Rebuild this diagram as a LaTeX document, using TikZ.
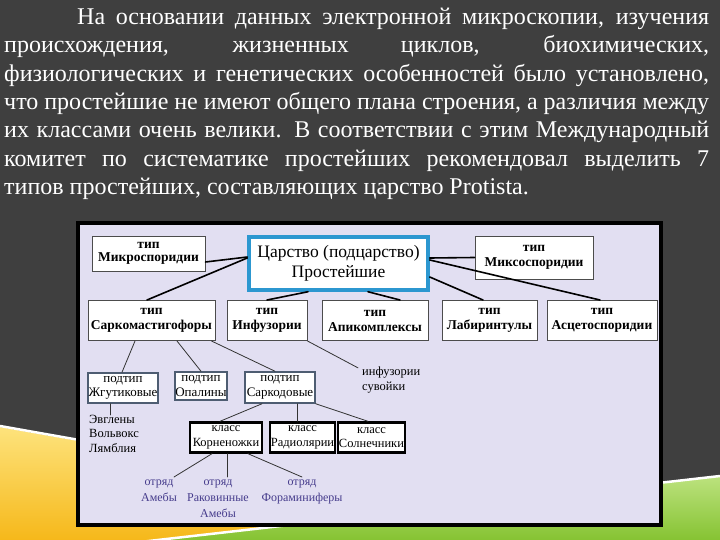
\documentclass[tikz,border=0pt]{standalone}
\usepackage{fontspec}
\setmainfont{Liberation Serif}
\usetikzlibrary{calc}
\definecolor{slidebg}{HTML}{3F3F3F}
\definecolor{panelbg}{HTML}{E2DFF2}
\definecolor{kingblue}{HTML}{2C97D0}
\definecolor{otryad}{HTML}{463C8C}
\definecolor{podedge}{HTML}{4E5D72}
\definecolor{swyellow}{HTML}{F6B81A}
\definecolor{swyellowhi}{HTML}{FDE37C}
\definecolor{swgreen}{HTML}{84C230}
\definecolor{swgreenhi}{HTML}{BCE27E}

\begin{document}
\begin{tikzpicture}[x=1pt, y=-1pt, line cap=round,
  tipbox/.style={draw=black!70, fill=white, line width=1pt, inner sep=0pt, align=center,
    font=\fontsize{13.5}{15}\selectfont\bfseries, minimum height=40pt},
  kingbox/.style={draw=kingblue, fill=white, line width=3.5pt, inner sep=0pt, align=center,
    font=\fontsize{17.5}{20}\selectfont, minimum width=179pt, minimum height=53pt},
  podbox/.style={draw=podedge, fill=white, line width=1.5pt, inner sep=0pt, align=center,
    font=\fontsize{13}{14.5}\selectfont, minimum height=30pt},
  klassbox/.style={draw=black, fill=white, line width=2.4pt, inner sep=0pt, align=center,
    font=\fontsize{12.5}{14.5}\selectfont, minimum height=30pt},
  plaintext/.style={inner sep=0pt, font=\fontsize{12.5}{14.5}\selectfont},
  otryadtext/.style={inner sep=0pt, align=center, text=otryad, font=\fontsize{12}{16}\selectfont},
  toplink/.style={black, line width=1.6pt},
  sublink/.style={black!80, line width=0.8pt},
  toptext/.style={inner sep=0pt, align=left, text=white, font=\fontsize{24}{28.3}\selectfont}
]
  \useasboundingbox (0,0) rectangle (720,540);
  \clip (0,0) rectangle (720,540);

  % slide background and swooshes
  \fill[slidebg] (0,0) rectangle (720,540);
  \shade[top color=swyellowhi, bottom color=swyellow] (0,427) -- (640,540) -- (0,540) -- cycle;
  \draw[white, line width=2.5pt] (0,426) -- (640,539);
  \shade[top color=swgreenhi, bottom color=swgreen] (140,542) -- (720,476) -- (720,542) -- cycle;
  \draw[white, line width=2.5pt] (140,542) -- (720,476);

  % intro paragraph
  \node[toptext, anchor=north west] (intro) at (4,8) {%
    \makebox[705pt][s]{\hspace{73pt}На основании данных электронной микроскопии, изучения}\\
    \makebox[705pt][s]{происхождения, жизненных циклов, биохимических,}\\
    \makebox[705pt][s]{физиологических и генетических особенностей было установлено,}\\
    \makebox[705pt][s]{что простейшие не имеют общего плана строения, а различия между}\\
    \makebox[705pt][s]{их классами очень велики. В соответствии с этим Международный}\\
    \makebox[705pt][s]{комитет по систематике простейших рекомендовал выделить 7}\\
    типов простейших, составляющих царство Protista.};

  % diagram panel
  \draw[black, line width=3.5pt, fill=panelbg] (78,223) rectangle (661,525);

  % kingdom and the seven types
  \node[kingbox] (king) at (338.5,263.5) {Царство (подцарство)\\Простейшие};
  \node[tipbox, minimum width=113pt, minimum height=35pt,
    font=\fontsize{13.5}{13.5}\selectfont\bfseries] (micro) at (148.5,253.5) {тип\\Микроспоридии};
  \node[tipbox, minimum width=118pt, minimum height=43pt] (mixo) at (534,257.5) {тип\\Миксоспоридии};
  \node[tipbox, minimum width=127pt] (sarco) at (151.5,320.5) {тип\\Саркомастигофоры};
  \node[tipbox, minimum width=80pt] (infu) at (267,320.5) {тип\\Инфузории};
  \node[tipbox, minimum width=106pt] (apic) at (375,320.5) {тип\\Апикомплексы};
  \node[tipbox, minimum width=95pt] (labi) at (489.5,320.5) {тип\\Лабиринтулы};
  \node[tipbox, minimum width=110pt] (asce) at (602,320.5) {тип\\Асцетоспоридии};

  % subtypes
  \node[podbox, minimum width=70pt] (zhgut) at (123,388) {подтип\\Жгутиковые};
  \node[podbox, minimum width=52pt, minimum height=28pt] (opal) at (201,386) {подтип\\Опалины};
  \node[podbox, minimum width=70pt, minimum height=31pt] (sarcod) at (280,387.5) {подтип\\Саркодовые};
  \node[plaintext, align=left, anchor=west] (suvoi) at (362,380) {инфузории\\сувойки};
  \node[plaintext, align=left, anchor=north west] (evgl) at (89,415) {Эвглены\\Вольвокс\\Лямблия};

  % classes
  \node[klassbox, minimum width=72pt] (korn) at (226,437.5) {класс\\Корненожки};
  \node[klassbox, minimum width=65pt] (radio) at (302.5,437.5) {класс\\Радиолярии};
  \node[klassbox, minimum width=67pt] (solne) at (371.5,437.5) {класс\\Солнечники};

  % orders
  \node[otryadtext, anchor=north] (ot1) at (159,480) {отряд\\Амебы};
  \node[otryadtext, anchor=north] (ot2) at (218,480) {отряд\\Раковинные\\Амебы};
  \node[otryadtext, anchor=north] (ot3) at (302,480) {отряд\\Фораминиферы};

  % links from the kingdom
  \draw[toplink] ([yshift=6.5pt]king.west) -- ([yshift=-8.5pt]micro.east);
  \draw[toplink] ([yshift=5.5pt]king.west) -- ([xshift=-4.5pt]sarco.north);
  \draw[toplink] ([xshift=-30.5pt]king.south) -- (infu.north);
  \draw[toplink] ([xshift=29.5pt]king.south) -- ([xshift=25pt]apic.north);
  \draw[toplink] ([yshift=5.5pt]king.east) -- (mixo.west);
  \draw[toplink] ([yshift=-13.5pt]king.east) -- ([xshift=-6.5pt]labi.north);
  \draw[toplink] ([yshift=3.5pt]king.east) -- ([xshift=-2pt]asce.north);

  % lower levels
  \draw[sublink] ([xshift=-16.5pt]sarco.south) -- ([xshift=-1pt]zhgut.north);
  \draw[sublink] ([xshift=25.5pt]sarco.south) -- (opal.north);
  \draw[sublink] ([xshift=60pt]sarco.south) -- ([xshift=-5pt]sarcod.north);
  \draw[sublink] (infu.south east) -- ([xshift=-4pt,yshift=-1pt]suvoi.north west);
  \draw[sublink] ([xshift=-13pt]zhgut.south) -- ([xshift=-13pt]zhgut.south |- evgl.north);
  \draw[sublink] ([xshift=-18pt]sarcod.south) -- ([xshift=-6pt]korn.north);
  \draw[sublink] ([xshift=17pt]sarcod.south) -- ([xshift=-5.5pt]radio.north);
  \draw[sublink] (sarcod.south east) -- ([xshift=-3.5pt]solne.north);
  \draw[sublink] ([xshift=-14pt]korn.south) -- ([xshift=15pt,yshift=3pt]ot1.north);
  \draw[sublink] ([xshift=1pt]korn.south) -- ([xshift=1pt,yshift=3pt]korn.south |- ot2.north);
  \draw[sublink] ([xshift=22pt]korn.south) -- ([yshift=3pt]ot3.north);
\end{tikzpicture}
\end{document}
